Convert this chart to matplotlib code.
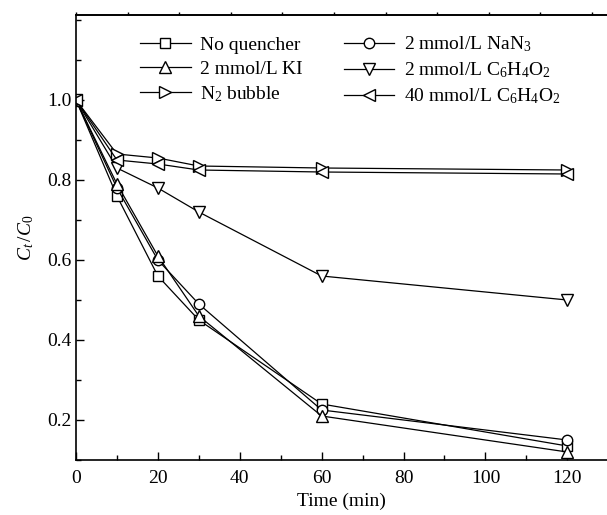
import matplotlib
matplotlib.use("Agg")
import matplotlib.pyplot as plt
import numpy as np
from matplotlib.ticker import MultipleLocator

plt.rcParams['font.family'] = ['Liberation Serif', 'DejaVu Serif']
plt.rcParams['mathtext.fontset'] = 'custom'
plt.rcParams['mathtext.rm'] = 'Liberation Serif'
plt.rcParams['mathtext.it'] = 'Liberation Serif:italic'

time = [0, 10, 20, 30, 60, 120]
no_quencher = [1.0, 0.76, 0.56, 0.45, 0.24, 0.135]
nan3 = [1.0, 0.78, 0.60, 0.49, 0.225, 0.15]
ki = [1.0, 0.79, 0.61, 0.46, 0.21, 0.12]
bq2 = [1.0, 0.83, 0.78, 0.72, 0.56, 0.50]
n2 = [1.0, 0.865, 0.855, 0.835, 0.83, 0.825]
bq40 = [1.0, 0.85, 0.84, 0.825, 0.82, 0.815]

labels = ['No quencher', r'2 mmol/L NaN$_3$', '2 mmol/L KI',
          r'2 mmol/L C$_6$H$_4$O$_2$', r'N$_2$ bubble', r'40 mmol/L C$_6$H$_4$O$_2$']
series = [no_quencher, nan3, ki, bq2, n2, bq40]
markers = ['s', 'o', '^', 'v', '>', '<']
msizes = [7, 7.5, 8.5, 8.5, 8.5, 8.5]

fig = plt.figure(figsize=(6.07, 5.15), dpi=100)
ax = fig.add_axes([76/607, 55/515, 1 - 76/607, (460-15)/515])

handles = []
for y, m, ms, lab in zip(series, markers, msizes, labels):
    h, = ax.plot(time, y, marker=m, ms=ms, mfc='white', mec='black', mew=1.0,
                 color='black', lw=0.9, label=lab)
    handles.append(h)

ax.set_xlim(0, 129.7)
ax.set_ylim(0.1, 1.2125)
ax.set_xticks([0, 20, 40, 60, 80, 100, 120])
ax.xaxis.set_minor_locator(MultipleLocator(10))
ax.set_yticks([0.2, 0.4, 0.6, 0.8, 1.0])
ax.set_yticklabels(['0.2', '0.4', '0.6', '0.8', '1.0'])
ax.yaxis.set_minor_locator(MultipleLocator(0.1))
ax.tick_params(which='both', direction='in', labelsize=14, width=1.0)
ax.tick_params(which='major', length=6)
ax.tick_params(which='minor', length=3.5)
ax.tick_params(axis='x', pad=7)
ax.spines['right'].set_visible(False)
for s in ['left', 'bottom', 'top']:
    ax.spines[s].set_linewidth(1.2)

sec = ax.secondary_xaxis('top')
sec.set_xticks(np.arange(0, 129.7, 12.6))
sec.tick_params(direction='out', length=2, labeltop=False, width=1.0)
sec.spines['top'].set_linewidth(1.2)

ax.set_xlabel('Time (min)', fontsize=14, labelpad=4)
ax.set_ylabel(r'$C_t\,/C_0$', fontsize=14, labelpad=8)

# legend filled row by row (matplotlib fills column-major)
order = [0, 2, 4, 1, 3, 5]
leg = ax.legend(handles=[handles[i] for i in order], ncol=2, loc='upper left',
                bbox_to_anchor=(0.106, 0.973), frameon=False, fontsize=14,
                handlelength=2.6, handletextpad=0.5, columnspacing=2.1,
                labelspacing=0.32, borderaxespad=0)

fig.savefig('out.png', dpi=100)
